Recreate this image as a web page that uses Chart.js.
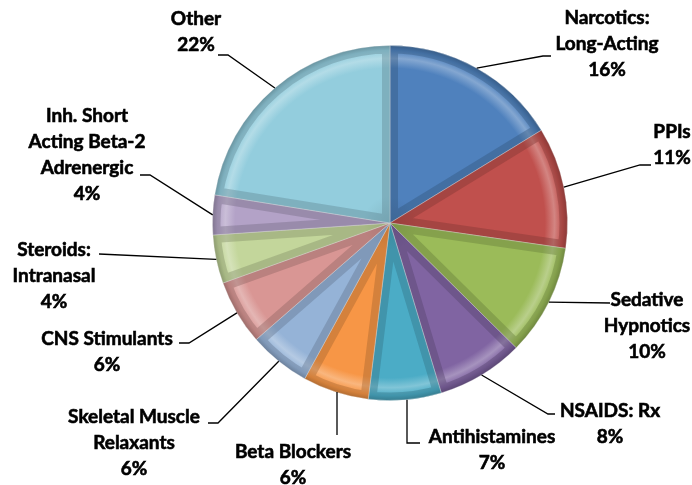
<!DOCTYPE html>
<html>
<head>
<meta charset="utf-8">
<script src="https://cdn.jsdelivr.net/npm/chart.js@4.4.0/dist/chart.umd.min.js"></script>
<style>
  html, body { margin: 0; padding: 0; background: #fff; }
</style>
</head>
<body>
<canvas id="chart" width="692" height="485"></canvas>
<script>
// slice names (split into label lines) and their shares, clockwise from 12 o'clock
const categories = [
  ['Narcotics:', 'Long-Acting'],
  ['PPIs'],
  ['Sedative', 'Hypnotics'],
  ['NSAIDS: Rx'],
  ['Antihistamines'],
  ['Beta Blockers'],
  ['Skeletal Muscle', 'Relaxants'],
  ['CNS Stimulants'],
  ['Steroids:', 'Intranasal'],
  ['Inh. Short', 'Acting Beta-2', 'Adrenergic'],
  ['Other']
];
const shares = [16.2, 11.0, 10.1, 7.9, 6.6, 6.0, 5.6, 5.9, 4.4, 3.6, 22.4];

const colors = ['#4F81BD', '#C0504D', '#9BBB59', '#8064A2', '#4BACC6', '#F79646',
                '#95B3D7', '#D99694', '#C3D69B', '#B3A2C7', '#93CDDD'];

// where each label sits (centre of first line) and the leader bend / end points
const labelLayout = [
  { x: 607, y: 18,  leader: [[543, 56], [551, 56]] },
  { x: 672, y: 132, leader: [[640, 165], [651, 165]] },
  { x: 647, y: 300, leader: [[610, 303]] },
  { x: 610, y: 411, leader: [[548, 414], [555, 414]] },
  { x: 492, y: 437, leader: [[407, 443], [420, 443]], vertical: true },
  { x: 293, y: 452, leader: [[337, 435]], vertical: true },
  { x: 134, y: 417, leader: [[218, 423], [208, 423]] },
  { x: 107, y: 339, leader: [[189, 343], [179, 343]] },
  { x: 54,  y: 250, leader: [[99, 254]] },
  { x: 87,  y: 116, leader: [[150, 175], [140, 175]] },
  { x: 196, y: 19,  leader: [[228, 55], [218, 55]] }
];
const lineHeight = 26;

function mix(hex, target, t) {
  const a = parseInt(hex.slice(1), 16), b = parseInt(target.slice(1), 16);
  const ch = (v, s) => (v >> s) & 255;
  const m = s => Math.round(ch(a, s) + (ch(b, s) - ch(a, s)) * t);
  return 'rgb(' + m(16) + ',' + m(8) + ',' + m(0) + ')';
}

function sliceFill(ctx) {
  const base = colors[ctx.dataIndex];
  const area = ctx.chart.chartArea;
  if (!area) return base;
  const cx = (area.left + area.right) / 2, cy = (area.top + area.bottom) / 2;
  const r = Math.min(area.width, area.height) / 2;
  const g = ctx.chart.ctx.createRadialGradient(cx, cy, 0, cx, cy, r);
  g.addColorStop(0, mix(base, '#000000', 0.1));
  g.addColorStop(0.15, base);
  g.addColorStop(0.87, base);
  g.addColorStop(0.925, mix(base, '#ffffff', 0.3));
  g.addColorStop(0.97, base);
  g.addColorStop(1, mix(base, '#000000', 0.25));
  return g;
}

const total = shares.reduce((s, v) => s + v, 0);

const bevelAndLabels = {
  id: 'bevelAndLabels',
  afterDatasetsDraw(chart) {
    const ctx = chart.ctx;
    const arcs = chart.getDatasetMeta(0).data;
    // inner shading along every slice edge
    arcs.forEach((arc, i) => {
      ctx.save();
      ctx.beginPath();
      ctx.moveTo(arc.x, arc.y);
      ctx.arc(arc.x, arc.y, arc.outerRadius, arc.startAngle, arc.endAngle);
      ctx.closePath();
      ctx.clip();
      ctx.lineWidth = 16;
      ctx.strokeStyle = mix(colors[i], '#000000', 0.35);
      ctx.globalAlpha = 0.4;
      ctx.stroke();
      ctx.restore();
    });

    ctx.save();
    ctx.strokeStyle = '#000';
    ctx.lineWidth = 1.3;
    ctx.fillStyle = '#000';
    ctx.font = 'bold 19px Lato';
    ctx.textAlign = 'center';
    ctx.textBaseline = 'middle';
    arcs.forEach((arc, i) => {
      const lay = labelLayout[i];
      const mid = (arc.startAngle + arc.endAngle) / 2;
      let sx = arc.x + arc.outerRadius * Math.cos(mid);
      const sy = arc.y + arc.outerRadius * Math.sin(mid);
      if (lay.vertical) sx = lay.leader[0][0];
      ctx.lineWidth = 1.3;
      ctx.beginPath();
      ctx.moveTo(sx, sy);
      lay.leader.forEach(p => ctx.lineTo(p[0], p[1]));
      ctx.stroke();

      // slight stroke makes the bold face a touch heavier, like the original
      ctx.lineWidth = 0.6;
      const lines = categories[i].concat([Math.round(shares[i] / total * 100) + '%']);
      lines.forEach((t, k) => {
        ctx.fillText(t, lay.x, lay.y + k * lineHeight);
        ctx.strokeText(t, lay.x, lay.y + k * lineHeight);
      });
    });
    ctx.restore();
  }
};

new Chart(document.getElementById('chart'), {
  type: 'pie',
  data: {
    labels: categories.map(c => c.join(' ')),
    datasets: [{
      data: shares,
      backgroundColor: sliceFill,
      borderColor: 'rgba(255,255,255,0.55)',
      borderWidth: 1
    }]
  },
  options: {
    responsive: false,
    animation: false,
    layout: { padding: { left: 212, right: 124, top: 45, bottom: 84 } },
    plugins: {
      legend: { display: false },
      tooltip: { enabled: false }
    }
  },
  plugins: [bevelAndLabels]
});
</script>
</body>
</html>
